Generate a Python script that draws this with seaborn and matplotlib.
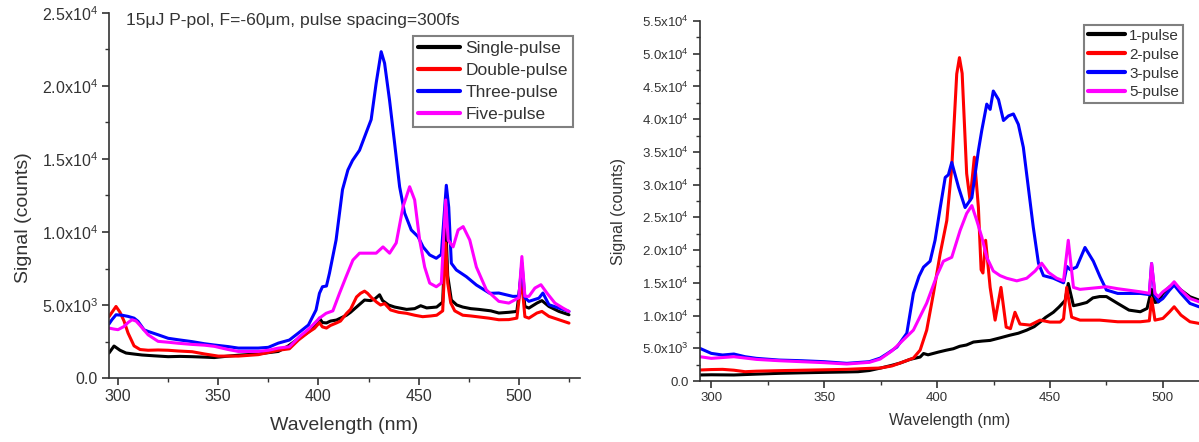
import matplotlib
matplotlib.use("Agg")
import matplotlib.pyplot as plt
import seaborn as sns
import numpy as np
import pandas as pd

# ---------------- data: left panel ----------------
L_single_wl = [295.5, 298, 301, 304, 308, 312, 318, 325, 331, 337, 343, 348, 355, 360, 370, 380, 385, 390, 395, 398,
               400.5, 402, 404, 406, 409, 411, 414, 416, 419, 423, 426, 428, 430.5, 432, 435, 438, 444, 448, 451, 454,
               459, 462, 463.5, 464.5, 466.3, 469, 472, 476, 480, 486, 490, 495, 499, 501.3, 503, 505, 509, 511.5,
               515, 520, 525]
L_single = [1710, 2190, 1900, 1710, 1640, 1575, 1520, 1460, 1480, 1460, 1430, 1400, 1500, 1560, 1650, 1820, 2200, 2700,
            3150, 3500, 4100, 3800, 3770, 3900, 3970, 4100, 4300, 4500, 4860, 5340, 5300, 5400, 5700, 5300, 5000, 4860,
            4700, 4750, 4950, 4800, 4860, 5200, 10600, 7000, 5340, 5000, 4860, 4750, 4700, 4600, 4450, 4500, 4560,
            7180, 4900, 4790, 5130, 5300, 4900, 4560, 4330]

L_double_wl = [295.5, 297, 299, 301, 303, 305, 308, 311, 315, 320, 325, 330, 337, 343, 350, 360, 370, 380, 385.5, 390,
               395, 398, 400.5, 402, 404, 406, 409, 411, 414, 416, 419, 421, 423, 424.5, 426.5, 429, 431, 433, 436, 440,
               444, 448, 452, 456, 459, 462, 463.5, 464.5, 466, 468, 472, 476, 479, 485, 490, 495, 499, 501.3, 503,
               505, 509, 511.5, 515, 520, 525]
L_double = [4200, 4500, 4900, 4500, 3900, 3080, 2200, 1950, 1900, 1920, 1900, 1850, 1800, 1650, 1500, 1500, 1600, 1900,
            2000, 2600, 3130, 3400, 3790, 3500, 3420, 3600, 3770, 3900, 4420, 4700, 5550, 5800, 5950, 5800, 5500, 5200,
            5000, 5100, 4660, 4500, 4430, 4300, 4200, 4250, 4300, 4600, 9250, 6500, 5150, 4600, 4300, 4250, 4200, 4100,
            3990, 4000, 4100, 6800, 4200, 4100, 4450, 4560, 4220, 3990, 3760]

L_three_wl = [295.5, 297, 299, 302, 305, 308, 310, 313, 315, 320, 325, 330, 337, 343, 348, 355, 360, 370, 375, 380,
              385.5, 390, 395, 398.8, 400.5, 402, 404, 405.5, 408.8, 412, 414.7, 417, 420.5, 423.8, 426.3, 428.8,
              431.3, 433, 435.5, 438, 440.5, 443, 446.3, 449.7, 452.2, 455.5, 458.8, 461.3, 463.8, 465, 466.3, 468.8,
              473.8, 478.8, 485.5, 490, 497, 500, 501.5, 503, 505, 510, 512, 515, 520, 525]
L_three = [3700, 4000, 4330, 4300, 4220, 4100, 3880, 3300, 3190, 2960, 2720, 2620, 2490, 2350, 2260, 2150, 2050, 2050,
           2100, 2390, 2600, 3080, 3630, 4660, 5800, 6250, 6300, 7180, 9450, 12900, 14250, 14900, 15600, 16800, 17700,
           20200, 22350, 21560, 19000, 16080, 13100, 11300, 10140, 9680, 8980, 8430, 8200, 8470, 13200, 11700, 7860,
           7400, 6940, 6370, 5800, 5820, 5590, 5600, 7870, 5500, 5250, 5470, 5820, 5020, 4790, 4560]

L_five_wl = [295.5, 298, 300, 303, 305, 307, 309, 311, 315, 320, 325, 330, 337, 343, 348, 355, 360, 370, 375, 380,
             385.5, 390.5, 395.5, 400.5, 403.8, 407.2, 410.5, 413.8, 417.2, 420.5, 425.5, 428.8, 432.2, 435.5, 438.8,
             442.2, 445.5, 448, 450.5, 453, 455.5, 458.8, 461.3, 463.5, 464.7, 467.2, 469.7, 472.2, 475.5, 478.8,
             483.8, 490, 495, 500, 501.5, 503, 505, 508, 511, 514, 518, 522, 525]
L_five = [3420, 3350, 3310, 3530, 3800, 3990, 3900, 3600, 2960, 2510, 2450, 2380, 2300, 2250, 2170, 1950, 1820, 1820,
          1900, 2050, 2140, 2830, 3400, 4100, 4430, 4600, 5800, 6940, 8080, 8550, 8550, 8550, 8980, 8550, 9250, 11730,
          13100, 12200, 9450, 7600, 6500, 6250, 6500, 12200, 9450, 8980, 10140, 10370, 9450, 7600, 6030, 5250, 5130,
          5500, 8320, 5600, 5590, 6160, 6390, 5820, 5130, 4790, 4560]

# ---------------- data: right panel ----------------
R_one_wl = [295, 300, 310, 320, 330, 340, 350, 360, 365, 370, 375, 380, 383.6, 388, 392.5, 394, 396, 400.6, 404, 407.2,
            410, 413, 416.1, 420, 423.5, 428, 432.3, 436, 439.7, 443, 445.6, 448, 451.5, 454, 456.7, 458.1, 460.4, 463,
            466.3, 469, 472, 475, 480, 485, 490, 493, 495, 496.5, 498, 500, 503, 505, 508, 512, 516]
R_one = [920, 950, 920, 1050, 1170, 1250, 1320, 1380, 1420, 1600, 1980, 2400, 2740, 3300, 3660, 4200, 4000, 4420, 4700,
         4930, 5300, 5500, 5950, 6100, 6200, 6600, 7000, 7300, 7770, 8300, 9000, 9700, 10500, 11300, 12300, 14900,
         11500, 11700, 12000, 12700, 12900, 12900, 11850, 10830, 10580, 11090, 14000, 12000, 12100, 13380, 14400,
         14900, 13900, 12870, 12360]

R_two_wl = [295, 300, 305, 310, 315, 320, 330, 345, 360, 370, 374.8, 380, 383.6, 389.5, 392.5, 395.4, 398.4, 401.4,
            404.3, 406.5, 408.7, 409.9, 411.1, 413.1, 414.6, 416.5, 418.3, 419.5, 420.3, 421.5, 423.5, 425.7, 428.3,
            430.6, 432.5, 434.5, 436.7, 441.2, 445.6, 450, 454.5, 456, 457.4, 459.6, 463.3, 472, 480, 490, 494, 495,
            496.5, 500, 503, 505, 508, 512, 516]
R_two = [1680, 1750, 1780, 1650, 1420, 1500, 1580, 1680, 1780, 1930, 1980, 2300, 2740, 3500, 4720, 7770, 13400, 19500,
         24500, 32600, 46900, 49400, 47000, 31700, 27600, 34200, 26500, 17000, 16500, 21500, 14300, 9300, 14300, 8230,
         8000, 10500, 8700, 8540, 9300, 9000, 9000, 9500, 14300, 9750, 9300, 9300, 9050, 9050, 9200, 12600, 9300,
         9560, 10580, 11340, 10070, 9050, 8800]

R_three_wl = [295, 300, 305, 310, 315, 320, 330, 340, 350, 360, 370, 374.8, 378, 382.2, 386.6, 389.5, 392, 394, 396.9,
              399.1, 401.4, 403.6, 405, 406.5, 409.5, 412.4, 415.4, 418.3, 419.8, 422, 423.5, 424.9, 427.2, 429.4,
              431.6, 433.8, 436, 438.2, 440.4, 442.6, 444.9, 447.1, 451.5, 456, 457.5, 459, 461.8, 465.5, 469.2, 472.2,
              475, 480, 490, 494, 495, 496.5, 498, 500, 503, 505, 508, 512, 516]
R_three = [4980, 4220, 3970, 4120, 3710, 3460, 3200, 3100, 2950, 2700, 2950, 3500, 4200, 5180, 7300, 13400, 16000,
           17400, 18300, 21500, 26500, 31100, 31500, 33400, 29600, 26500, 28000, 35200, 38300, 42300, 41500, 44300,
           43000, 39800, 40500, 40800, 39200, 35700, 29600, 23500, 18000, 16100, 15700, 15000, 17500, 17000, 17400,
           20400, 18300, 15900, 13900, 13380, 13380, 13200, 17950, 13000, 12100, 12600, 13900, 14650, 13380, 11850,
           11340]

R_five_wl = [295, 300, 310, 320, 330, 340, 350, 360, 370, 374.8, 380, 383.6, 389.5, 395.4, 399.9, 402.8, 406.5, 410.2,
             413.1, 415.4, 417.6, 419.8, 422, 424.9, 427.9, 430.8, 435.3, 439.7, 443.4, 446.3, 449.3, 453, 456, 458.1,
             460.4, 463.3, 472.2, 475, 480, 490, 494, 495, 496.5, 498, 500, 503, 505, 508, 512, 516]
R_five = [3710, 3460, 3710, 3300, 3100, 2950, 2800, 2600, 2850, 3350, 4600, 5790, 7770, 11900, 16100, 18300, 18900,
          23000, 25600, 26800, 24500, 22000, 18900, 16800, 16100, 15700, 15300, 15700, 16800, 18000, 16600, 15700,
          15300, 21500, 14300, 14000, 14300, 14400, 14100, 13630, 13400, 17950, 13400, 12870, 13630, 14400, 15160,
          13900, 12600, 12100]

L_labels = ["Single-pulse", "Double-pulse", "Three-pulse", "Five-pulse"]
R_labels = ["1-pulse", "2-pulse", "3-pulse", "5-pulse"]
colors = ["#000000", "#ff0000", "#0000ff", "#ff00ff"]

L_yticks = [0, 5000, 10000, 15000, 20000, 25000]
L_yticklabels = ["0.0", r"5.0x10$^3$", r"1.0x10$^4$", r"1.5x10$^4$", r"2.0x10$^4$", r"2.5x10$^4$"]
R_yticks = [0, 5000, 10000, 15000, 20000, 25000, 30000, 35000, 40000, 45000, 50000, 55000]
R_yticklabels = ["0.0", r"5.0x10$^3$", r"1.0x10$^4$", r"1.5x10$^4$", r"2.0x10$^4$", r"2.5x10$^4$",
                 r"3.0x10$^4$", r"3.5x10$^4$", r"4.0x10$^4$", r"4.5x10$^4$", r"5.0x10$^4$", r"5.5x10$^4$"]
xticks = [300, 350, 400, 450, 500]
title_text = "15\u03bcJ P-pol, F=-60\u03bcm, pulse spacing=300fs"

# ---------------- style ----------------
sns.set_theme(style="ticks")
plt.rcParams["font.family"] = ["Liberation Sans", "DejaVu Sans"]
plt.rcParams["mathtext.fontset"] = "custom"
plt.rcParams["mathtext.rm"] = "Liberation Sans"
plt.rcParams["mathtext.it"] = "Liberation Sans:italic"
plt.rcParams["mathtext.bf"] = "Liberation Sans:bold"
TXT = "#333333"

fig = plt.figure(figsize=(11.99, 4.42), dpi=100)
axL = fig.add_axes([109 / 1199, 1 - 378 / 442, 471 / 1199, 365 / 442])
axR = fig.add_axes([700 / 1199, 1 - 381 / 442, 499 / 1199, 360 / 442])


def draw(ax, series, labels):
    for (wl, val), lab, c in zip(series, labels, colors):
        df = pd.DataFrame({"wl": wl, "sig": val})
        sns.lineplot(data=df, x="wl", y="sig", ax=ax, color=c, lw=2.2, label=lab,
                     estimator=None, sort=False)


draw(axL, [(L_single_wl, L_single), (L_double_wl, L_double), (L_three_wl, L_three), (L_five_wl, L_five)], L_labels)
draw(axR, [(R_one_wl, R_one), (R_two_wl, R_two), (R_three_wl, R_three), (R_five_wl, R_five)], R_labels)


def style(ax, xlim, ylim, yt, ytl, tick_fs, label_fs, xlab_y, ylab_x, ylab_y, minor_y):
    ax.set_xticks(xticks)
    ax.set_xticklabels([str(t) for t in xticks])
    ax.set_yticks(yt)
    ax.set_yticklabels(ytl)
    minor_x = [t for t in np.arange(325, 530, 50) if t < xlim[1]]
    ax.set_xticks(minor_x, minor=True)
    ax.set_yticks(minor_y, minor=True)
    ax.set_xlim(*xlim)
    ax.set_ylim(*ylim)
    for s in ["top", "right"]:
        ax.spines[s].set_visible(False)
    for s in ["left", "bottom"]:
        ax.spines[s].set_color(TXT)
        ax.spines[s].set_linewidth(1.2)
    ax.tick_params(which="major", direction="out", length=5, width=1.2, colors=TXT, labelsize=tick_fs, pad=3)
    ax.tick_params(which="minor", direction="out", length=3, width=1.0, colors=TXT)
    ax.set_xlabel("Wavelength (nm)", fontsize=label_fs, color=TXT, va="center")
    ax.set_ylabel("Signal (counts)", fontsize=label_fs, color=TXT, va="center")
    ax.xaxis.set_label_coords(0.5, xlab_y)
    ax.yaxis.set_label_coords(ylab_x, ylab_y)


style(axL, (295.5, 530.5), (0, 25000), L_yticks, L_yticklabels, 11.5, 14,
      (378 - 426) / 365, (24 - 109) / 471, 0.44, np.arange(2500, 25000, 5000))
style(axR, (295.0, 516.0), (0, 55000), R_yticks, R_yticklabels, 9.5, 11.5,
      (381 - 421) / 360, (619 - 700) / 499, 0.47, np.arange(2500, 55000, 5000))

axL.text(126 / 1199, 1 - 20 / 442, title_text, transform=fig.transFigure, fontsize=12.6, color=TXT,
         ha="left", va="center")

legL = axL.legend(loc="upper right", bbox_to_anchor=(573 / 1199, 1 - 36 / 442), bbox_transform=fig.transFigure,
                  fontsize=12.5, frameon=True, fancybox=False, borderaxespad=0, handlelength=2.4,
                  handletextpad=0.3, labelspacing=0.38, borderpad=0.3)
legR = axR.legend(loc="upper right", bbox_to_anchor=(1183 / 1199, 1 - 25 / 442), bbox_transform=fig.transFigure,
                  fontsize=11, frameon=True, fancybox=False, borderaxespad=0, handlelength=2.4,
                  handletextpad=0.3, labelspacing=0.32, borderpad=0.25)
for leg in (legL, legR):
    fr = leg.get_frame()
    fr.set_edgecolor("#808080")
    fr.set_linewidth(1.5)
    fr.set_alpha(1)
    for t in leg.get_texts():
        t.set_color(TXT)
    for h in leg.get_lines():
        h.set_linewidth(3)

fig.savefig("out.png", dpi=100)
